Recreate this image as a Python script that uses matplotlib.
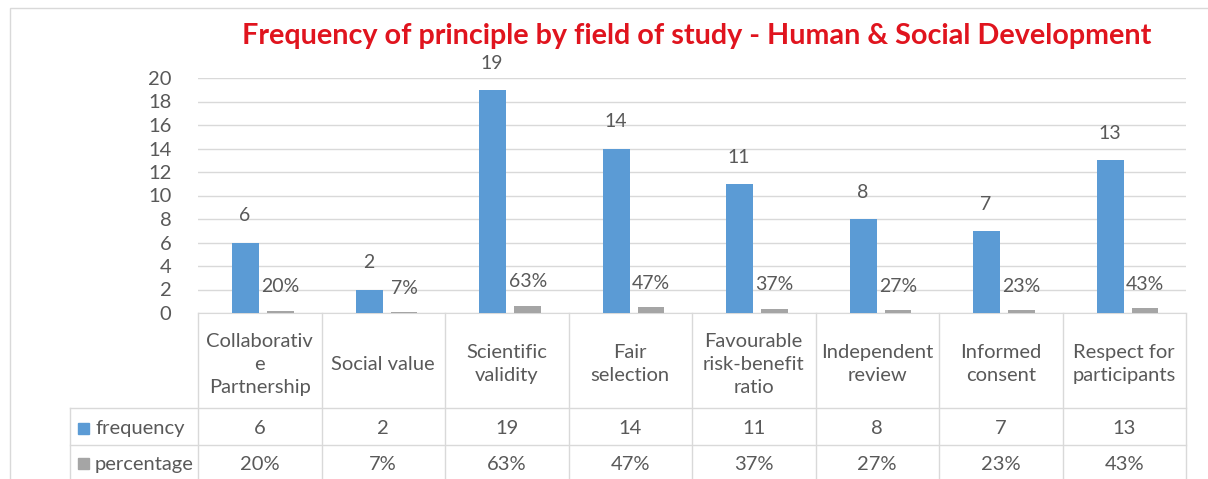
import matplotlib.pyplot as plt
import matplotlib.transforms as mtransforms
from matplotlib.patches import Rectangle

categories = ["Collaborativ\ne\nPartnership", "Social value", "Scientific\nvalidity",
              "Fair\nselection", "Favourable\nrisk-benefit\nratio", "Independent\nreview",
              "Informed\nconsent", "Respect for\nparticipants"]
frequency = [6, 2, 19, 14, 11, 8, 7, 13]
percentage = [0.20, 0.07, 0.63, 0.47, 0.37, 0.27, 0.23, 0.43]

blue = "#5B9BD5"
gray = "#A5A5A5"
txt = "#595959"
plt.rcParams["font.family"] = ["Lato", "DejaVu Sans"]

fig = plt.figure(figsize=(12.08, 4.79), dpi=100)
ax = fig.add_axes([198 / 1208, 166 / 479, 988 / 1208, 235 / 479])

x = list(range(len(categories)))
w = 0.218
ax.bar([i - 0.112 for i in x], frequency, w, color=blue, zorder=3)
ax.bar([i + 0.168 for i in x], percentage, w, color=gray, zorder=3)

for i in x:
    ax.annotate(str(frequency[i]), (i - 0.12, frequency[i]), xytext=(0, 13),
                textcoords="offset points", ha="center", va="bottom", fontsize=14, color=txt)
    ax.annotate("%d%%" % round(percentage[i] * 100), (i + 0.17, percentage[i]), xytext=(0, 11),
                textcoords="offset points", ha="center", va="bottom", fontsize=14, color=txt)

ax.set_xlim(-0.5, len(categories) - 0.5)
ax.set_ylim(0, 20)
ax.set_yticks(range(0, 21, 2))
ax.tick_params(axis="y", length=0, labelsize=14.5, labelcolor=txt, pad=19)
ax.set_xticks([])
ax.grid(axis="y", color="#D9D9D9", linewidth=1, zorder=0)
for s in ["top", "right", "left"]:
    ax.spines[s].set_visible(False)
ax.spines["bottom"].set_color("#D9D9D9")

# data table below the axes
tr = mtransforms.blended_transform_factory(ax.transData, fig.transFigure)
ftr = fig.transFigure
row_tops = [313, 408, 445, 482]
yf = [1 - r / 479 for r in row_tops]
line_kw = dict(color="#D9D9D9", linewidth=1, clip_on=False)
for b in [i - 0.5 for i in range(len(categories) + 1)]:
    fig.add_artist(plt.Line2D([b, b], [yf[0], yf[3]], transform=tr, **line_kw))
left = 70 / 1208
right = 1186 / 1208
fig.add_artist(plt.Line2D([left, left], [yf[1], yf[3]], transform=ftr, **line_kw))
for y in yf[1:3]:
    fig.add_artist(plt.Line2D([left, right], [y, y], transform=ftr, **line_kw))

for i, c in enumerate(categories):
    fig.text(i, (yf[0] + yf[1]) / 2 - 0.008, c, transform=tr, ha="center", va="center",
             fontsize=14.5, color=txt, linespacing=1.45)
    fig.text(i, (yf[1] + yf[2]) / 2 - 0.005, str(frequency[i]), transform=tr, ha="center",
             va="center", fontsize=14.5, color=txt)
    fig.text(i, (yf[2] + yf[3]) / 2 - 0.002, "%d%%" % round(percentage[i] * 100), transform=tr,
             ha="center", va="center", fontsize=14.5, color=txt)

for k, (name, col) in enumerate([("frequency", blue), ("percentage", gray)]):
    yc = (yf[k + 1] + yf[k + 2]) / 2 - (0.002 if k else 0.005)
    fig.add_artist(Rectangle((78 / 1208, yc - 5 / 479), 11 / 1208, 11 / 479,
                             transform=ftr, color=col))
    fig.text(95 / 1208, yc, name, transform=ftr, ha="left", va="center",
             fontsize=14.5, color=txt)

fig.add_artist(Rectangle((10 / 1208, -0.01), 1.2, 1 - 8 / 479 + 0.01, transform=ftr,
                         fill=False, edgecolor="#D9D9D9", linewidth=1))

fig.text(697 / 1208, 1 - 36 / 479, "Frequency of principle by field of study - Human & Social Development",
         ha="center", va="center", fontsize=20.7, fontweight="bold", color="#E0141E")

fig.savefig("out.png", dpi=100)
